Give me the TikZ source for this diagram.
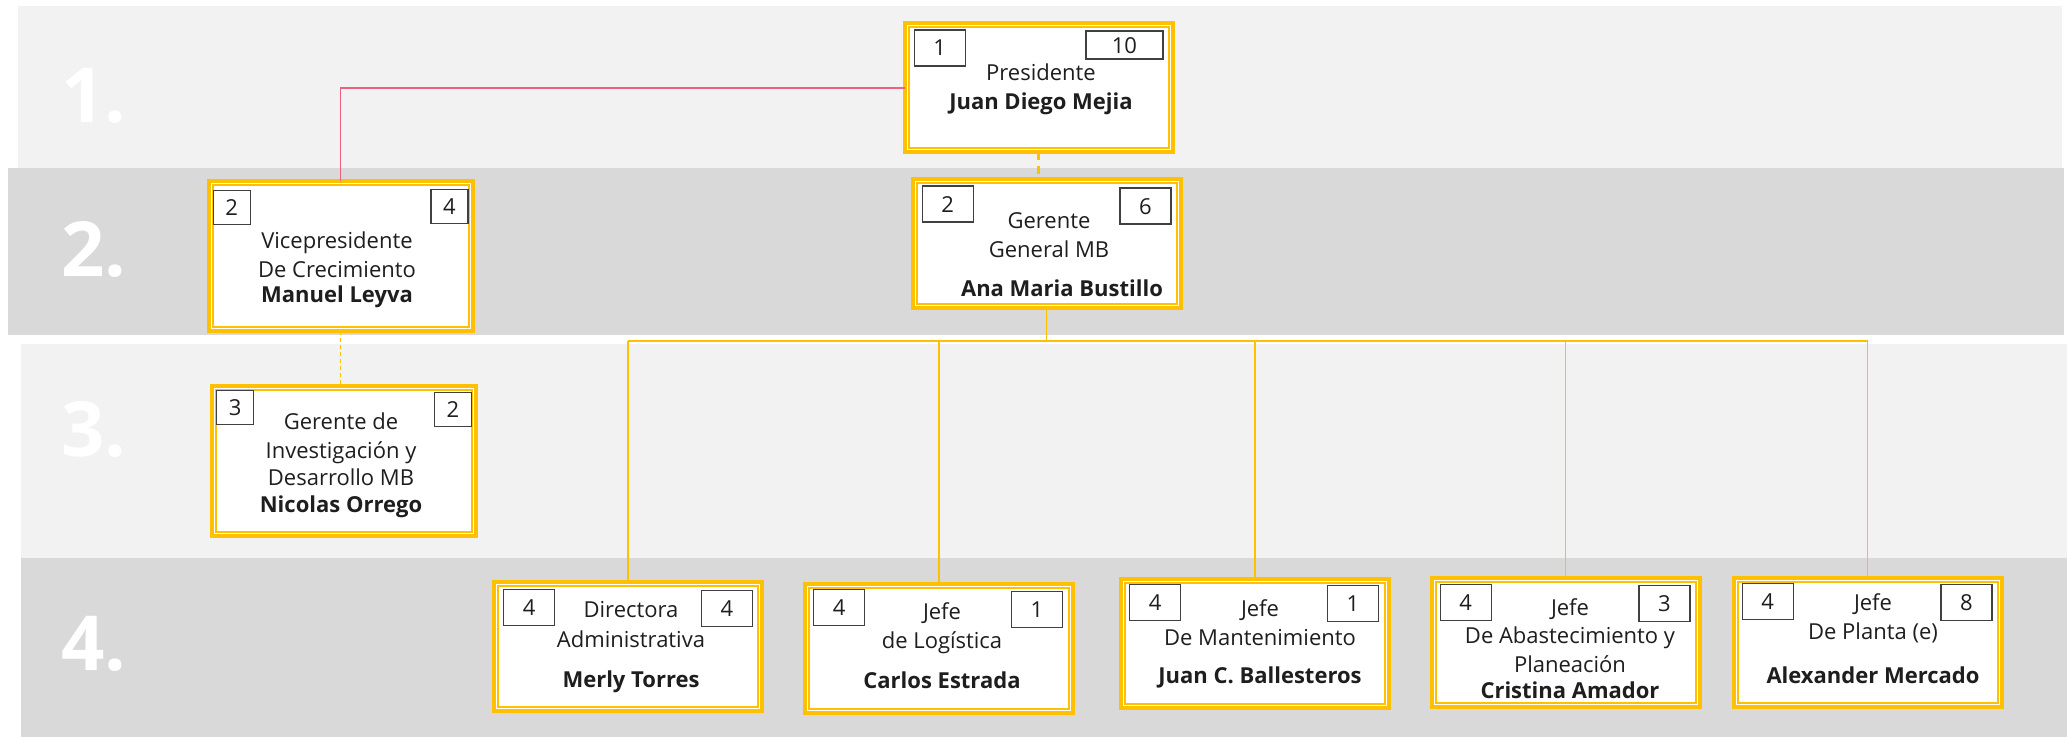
\documentclass[tikz,border=0pt]{standalone}
\usepackage{fontspec}
\setmainfont{Open Sans}
\definecolor{bandlight}{RGB}{242, 242, 242}
\definecolor{banddark}{RGB}{217, 217, 217}
\definecolor{gold}{RGB}{255, 192, 0}
\definecolor{rosa}{RGB}{236, 96, 128}
\definecolor{ink}{RGB}{30, 30, 30}
\definecolor{badgeline}{RGB}{64, 64, 64}
\usetikzlibrary{positioning, calc}

\tikzset{
  cargo/.style={draw=gold, line width=2pt, fill=white, minimum width=134pt, minimum height=64.5pt,
    inner sep=0pt, outer sep=0pt,
    path picture={\draw[gold, line width=1pt] ([shift={(2pt,-2pt)}]path picture bounding box.north west)
      rectangle ([shift={(-2pt,2pt)}]path picture bounding box.south east);}},
  cargoalto/.style={cargo, minimum width=132pt, minimum height=75pt},
  badge/.style={draw=badgeline, line width=0.65pt, fill=white, minimum width=25.5pt, minimum height=18pt,
    inner sep=0pt, text=ink, font=\fontsize{11}{13}\selectfont},
  badgesm/.style={badge, minimum width=18.5pt, minimum height=17pt},
  badgewide/.style={badge, minimum width=38.5pt, minimum height=14pt},
  rolet/.style={align=center, inner sep=0pt, text=ink, anchor=base, font=\fontsize{11}{14.5}\selectfont},
  lvlnum/.style={text=white, inner sep=0pt, anchor=base east, font=\fontsize{38}{38}\selectfont\bfseries},
  enlace/.style={draw=gold, line width=0.7pt},
  barra/.style={draw=gold, line width=1pt},
  enlacerosa/.style={draw=rosa, line width=0.6pt},
  punteado/.style={draw=gold, line width=1.2pt, dash pattern=on 4pt off 3pt},
}

\begin{document}
\begin{tikzpicture}[x=0.5pt, y=-0.5pt]
  \useasboundingbox (0,0) rectangle (2067,737);

  % Level bands
  \fill[bandlight] (18,6) rectangle (2062,168);
  \fill[banddark] (8,168) rectangle (2064,335);
  \fill[bandlight] (21,344) rectangle (2067,558);
  \fill[banddark] (21,558) rectangle (2067,737);

  \node[lvlnum] (lvl1) at (127,123) {1.};
  \node[lvlnum] (lvl2) at (127,277) {2.};
  \node[lvlnum] (lvl3) at (127,457) {3.};
  \node[lvlnum] (lvl4) at (127,670) {4.};

  % Level 1
  \node[cargo] (pres) at (1038.5,88) {};
  \node[badge, anchor=north west] (pres-a) at ([shift={(4.5pt,-3pt)}]pres.north west) {1};
  \node[badgewide, anchor=north east] (pres-b) at ([shift={(-4.5pt,-3.5pt)}]pres.north east) {10};
  \node[rolet] (pres-t) at (1041,110) {Presidente\\\textbf{Juan Diego Mejia}};

  % Level 2
  \node[cargo] (gg) at (1046.5,244) {};
  \node[badge, anchor=north west] (gg-a) at ([shift={(4.5pt,-3pt)}]gg.north west) {2};
  \node[badge, anchor=north east] (gg-b) at ([shift={(-4.5pt,-4pt)}]gg.north east) {6};
  \node[rolet] (gg-t) at (1049,297) {Gerente\\General MB\\[5pt]\textbf{\hspace*{13pt}Ana Maria Bustillo}};

  \node[cargoalto] (vice) at (340.5,256) {};
  \node[badgesm, anchor=north west] (vice-a) at ([shift={(2pt,-4.5pt)}]vice.north west) {2};
  \node[badgesm, anchor=north east] (vice-b) at ([shift={(-2pt,-4pt)}]vice.north east) {4};
  \node[rolet] (vice-t) at (337,303) {Vicepresidente\\De Crecimiento\\[-2pt]\textbf{Manuel Leyva}};

  % Level 3
  \node[cargoalto] (iyd) at (344,461) {};
  \node[badgesm, anchor=north west] (iyd-a) at ([shift={(2pt,-2pt)}]iyd.north west) {3};
  \node[badgesm, anchor=north east] (iyd-b) at ([shift={(-2pt,-3pt)}]iyd.north east) {2};
  \node[rolet] (iyd-t) at (341,513) {Gerente de\\Investigación y\\[-0.5pt]Desarrollo MB\\[-1pt]\textbf{Nicolas Orrego}};

  % Level 4
  \node[cargo] (dir) at (628,646) {};
  \node[badge, anchor=north west] (dir-a) at ([shift={(4.5pt,-3.5pt)}]dir.north west) {4};
  \node[badge, anchor=north east] (dir-b) at ([shift={(-4.5pt,-4pt)}]dir.north east) {4};
  \node[rolet] (dir-t) at (631,687) {Directora\\[0.5pt]Administrativa\\[5.5pt]\textbf{Merly Torres}};

  \node[cargo] (log) at (939,648.5) {};
  \node[badge, anchor=north west] (log-a) at ([shift={(4pt,-2.5pt)}]log.north west) {4};
  \node[badge, anchor=north east] (log-b) at ([shift={(-5pt,-3.5pt)}]log.north east) {1};
  \node[rolet] (log-t) at (942,688) {Jefe\\de Logística\\[5.5pt]\textbf{Carlos Estrada}};

  \node[cargo] (mant) at (1255,643) {};
  \node[badge, anchor=north west] (mant-a) at ([shift={(4pt,-2.5pt)}]mant.north west) {4};
  \node[badge, anchor=north east] (mant-b) at ([shift={(-5pt,-3pt)}]mant.north east) {1};
  \node[rolet] (mant-t) at (1260,683) {Jefe\\De Mantenimiento\\[4.5pt]\textbf{Juan C. Ballesteros}};

  \node[cargo] (abast) at (1565.5,642.5) {};
  \node[badge, anchor=north west] (abast-a) at ([shift={(4pt,-3pt)}]abast.north west) {4};
  \node[badge, anchor=north east] (abast-b) at ([shift={(-4.5pt,-3.5pt)}]abast.north east) {3};
  \node[rolet] (abast-t) at (1570,698) {Jefe\\[-0.5pt]De Abastecimiento y\\Planeación\\[-1.5pt]\textbf{Cristina Amador}};

  \node[cargo] (planta) at (1867.5,642) {};
  \node[badge, anchor=north west] (planta-a) at ([shift={(4pt,-2.5pt)}]planta.north west) {4};
  \node[badge, anchor=north east] (planta-b) at ([shift={(-4.5pt,-3pt)}]planta.north east) {8};
  \node[rolet] (planta-t) at (1873,683) {Jefe\\De Planta (e)\\[7.5pt]\textbf{Alexander Mercado}};

  % Connectors
  \draw[enlacerosa] (pres.west) -| (vice.north);
  \draw[punteado] (pres.south) -- (pres.south |- gg.north);
  \draw[punteado, line width=0.7pt, dash pattern=on 2pt off 1.5pt] (vice.south) -- (vice.south |- iyd.north);
  \coordinate (bus) at (1053,341);
  \draw[enlace] (gg.south) -- (gg.south |- bus);
  \draw[barra] (dir.north |- bus) -- (planta.north |- bus);
  \foreach \n in {dir, log, mant, abast, planta}
    \draw[enlace] (\n.north |- bus) -- (\n.north);
\end{tikzpicture}
\end{document}
